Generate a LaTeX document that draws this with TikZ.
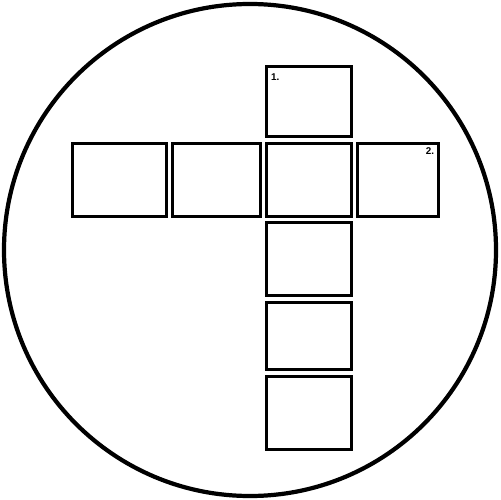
\documentclass[tikz,border=0pt]{standalone}
\usepackage{fontspec}
\setsansfont{Liberation Sans}
\usepackage{tikz}
\usetikzlibrary{calc}
\definecolor{INK}{HTML}{000000}

\begin{document}
\begin{tikzpicture}[x=0.02cm,y=-0.02cm]
\tikzset{cell/.style={draw=INK,line width=1.7pt,inner sep=0pt,minimum width=#1},
 ring/.style={draw=INK,line width=2.4pt},
 numlbl/.style={font=\sffamily\bfseries\fontsize{5.6}{6}\selectfont,inner sep=0pt,INK}}
\useasboundingbox (0,0) rectangle (500,500);
\draw[ring] (250,250) circle (246*0.02cm);
% top cell
\node[cell=85.4*0.02cm,minimum height=70.4*0.02cm] (top) at (309,101.5) {};
% cross row
\node[cell=94*0.02cm,minimum height=73.3*0.02cm] (rowa) at (119.3,179.7) {};
\node[cell=88*0.02cm,minimum height=73.3*0.02cm] (rowb) at (216.3,179.7) {};
\node[cell=85.4*0.02cm,minimum height=73.3*0.02cm] (mid) at (309,179.7) {};
\node[cell=81.4*0.02cm,minimum height=73.3*0.02cm] (rowd) at (398,179.7) {};
% column below
\node[cell=85.4*0.02cm,minimum height=73.4*0.02cm] (cole) at (309,259) {};
\node[cell=85.4*0.02cm,minimum height=67.3*0.02cm] (colf) at (309,336.3) {};
\node[cell=85.4*0.02cm,minimum height=73.3*0.02cm] (colg) at (309,413.3) {};
\node[numlbl] (one) at (275.3,77) {1.};
\node[numlbl] (two) at (430,151.3) {2.};
\end{tikzpicture}
\end{document}
